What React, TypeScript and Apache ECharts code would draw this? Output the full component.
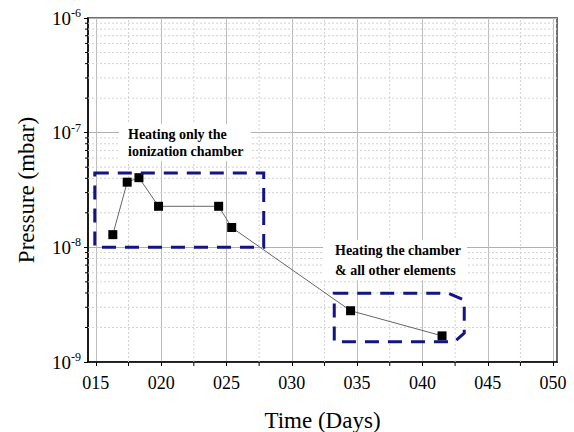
import React, { useEffect, useRef } from "react";
import * as echarts from "echarts";

const days = [16.3, 17.4, 18.3, 19.8, 24.4, 25.4, 34.5, 41.5];
const pressure = [1.29e-8, 3.7e-8, 4.05e-8, 2.28e-8, 2.28e-8, 1.49e-8, 2.8e-9, 1.69e-9];
const xTicks = [15, 20, 25, 30, 35, 40, 45, 50];
const xMinorTicks = [17.5, 22.5, 27.5, 32.5, 37.5, 42.5, 47.5];
const yExponents = [-9, -8, -7];
const yMinorFactors = [2, 3, 4, 5, 6, 7, 8, 9];
const xRange = [14.4, 50.3];
const yRange = [1e-9, 1e-6];
const box1 = [[14.92, 4.45e-8], [27.85, 4.45e-8], [27.85, 1e-8], [14.92, 1e-8]];
const box2 = [[33.25, 3.97e-9], [41.98, 3.97e-9], [43.2, 3.47e-9], [43.2, 1.79e-9], [42.46, 1.5e-9], [33.25, 1.5e-9]];
const note1 = ["Heating only the", "ionization chamber"];
const note2 = ["Heating the chamber", "& all other elements"];

const SERIF = "'Liberation Serif', 'Times New Roman', 'DejaVu Serif', serif";

export default function App() {
  const ref = useRef<HTMLDivElement>(null);
  useEffect(() => {
    if (!ref.current) return;
    const chart = echarts.init(ref.current, undefined, { renderer: "svg" });

    const yMinor: number[] = [];
    yExponents.forEach((e) => yMinorFactors.forEach((k) => yMinor.push(Number((k * Math.pow(10, e)).toPrecision(3)))));

    const frameData: number[][] = [];
    yMinor.forEach((v) => {
      frameData.push([xRange[0], v, xRange[1], v, 0]);
      frameData.push([xRange[0], v, xRange[0], v, 1]);
    });
    xMinorTicks.forEach((m) => {
      frameData.push([m, yRange[0], m, yRange[1], 0]);
      frameData.push([m, yRange[0], m, yRange[0], 2]);
    });

    const boxSeries = (box: number[][]) => ({
      type: "custom",
      z: 5,
      silent: true,
      clip: false,
      data: [box[0]],
      renderItem: (_p: any, api: any) => {
        const pts = box.map((p) => api.coord(p));
        return {
          type: "polygon",
          shape: { points: pts },
          style: { fill: "none", stroke: "#141485", lineWidth: 3, lineDash: [14, 9], lineJoin: "miter" },
        };
      },
    });

    const noteGraphic = (lines: string[], x: number, ys: number[], rect: number[]) => [
      {
        type: "rect",
        z: 100,
        shape: { x: rect[0], y: rect[1], width: rect[2], height: rect[3] },
        style: { fill: "#fff" },
      },
      ...lines.map((t, i) => ({
        type: "text",
        z: 101,
        x,
        y: ys[i],
        style: {
          text: t,
          font: "bold 14px 'Liberation Serif', 'Times New Roman', serif",
          fill: "#000",
          align: "left",
          verticalAlign: "middle",
        },
      })),
    ];

    chart.setOption({
      animation: false,
      backgroundColor: "#fff",
      grid: {
        left: 88,
        right: 17,
        top: 18,
        bottom: 70,
        show: true,
        borderColor: "#6e6e6e",
        borderWidth: 2,
        backgroundColor: "#fff",
        containLabel: false,
        outerBoundsMode: "none",
      },
      xAxis: {
        type: "value",
        min: xRange[0],
        max: xRange[1],
        name: "Time (Days)",
        nameLocation: "middle",
        nameGap: 47,
        nameTextStyle: { fontFamily: SERIF, fontSize: 23, color: "#000" },
        axisLine: { lineStyle: { color: "#000", width: 1.5 } },
        axisTick: { customValues: xTicks, length: 4, lineStyle: { color: "#000" } },
        axisLabel: {
          customValues: xTicks,
          formatter: (v: number) => String(v).padStart(3, "0"),
          fontFamily: SERIF,
          fontSize: 18,
          color: "#000",
          margin: 12,
        },
        splitLine: { show: true, lineStyle: { color: "#bcbcbc", width: 1 } },
      },
      yAxis: {
        type: "log",
        logBase: 10,
        min: yRange[0],
        max: yRange[1],
        name: "Pressure (mbar)",
        nameLocation: "middle",
        nameGap: 50,
        nameTextStyle: { fontFamily: SERIF, fontSize: 23, color: "#000" },
        axisLine: { show: true, lineStyle: { color: "#000", width: 1.5 } },
        axisTick: { show: true, length: 4, lineStyle: { color: "#000" } },
        axisLabel: {
          fontFamily: SERIF,
          color: "#000",
          margin: 7,
          formatter: (v: number) => `{b|10}{s|${Math.round(Math.log10(v))}}`,
          rich: {
            b: { fontFamily: SERIF, fontSize: 19, color: "#000", lineHeight: 22 },
            s: { fontFamily: SERIF, fontSize: 12, color: "#000", verticalAlign: "top", lineHeight: 12 },
          },
        },
        splitLine: { show: true, lineStyle: { color: "#b0b0b0", width: 1 } },
      },
      graphic: [
        ...noteGraphic(note1, 128, [134, 151], [119, 124, 132, 37]),
        ...noteGraphic(note2, 335, [250, 270], [323, 240, 144, 40]),
      ],
      series: [
        {
          type: "custom",
          z: 1,
          silent: true,
          clip: false,
          encode: { x: [0, 2], y: [1, 3] },
          data: frameData,
          renderItem: (_p: any, api: any) => {
            const kind = api.value(4);
            const p1 = api.coord([api.value(0), api.value(1)]);
            if (kind === 0) {
              const p2 = api.coord([api.value(2), api.value(3)]);
              return {
                type: "line",
                shape: { x1: p1[0], y1: p1[1], x2: p2[0], y2: p2[1] },
                style: { stroke: "#d2d2d2", lineWidth: 1, lineDash: [2, 2] },
              };
            }
            if (kind === 1) {
              return {
                type: "line",
                shape: { x1: p1[0] - 3, y1: p1[1], x2: p1[0], y2: p1[1] },
                style: { stroke: "#000", lineWidth: 1 },
              };
            }
            return {
              type: "line",
              shape: { x1: p1[0], y1: p1[1], x2: p1[0], y2: p1[1] + 4 },
              style: { stroke: "#000", lineWidth: 1 },
            };
          },
        },
        {
          type: "line",
          z: 4,
          data: days.map((d, i) => [d, pressure[i]]),
          symbol: "rect",
          symbolSize: 9,
          itemStyle: { color: "#000" },
          lineStyle: { color: "#666", width: 1 },
        },
        boxSeries(box1),
        boxSeries(box2),
      ],
    });
    return () => chart.dispose();
  }, []);
  return <div ref={ref} style={{ position: "fixed", left: 0, top: 0, width: 574, height: 432 }} />;
}
